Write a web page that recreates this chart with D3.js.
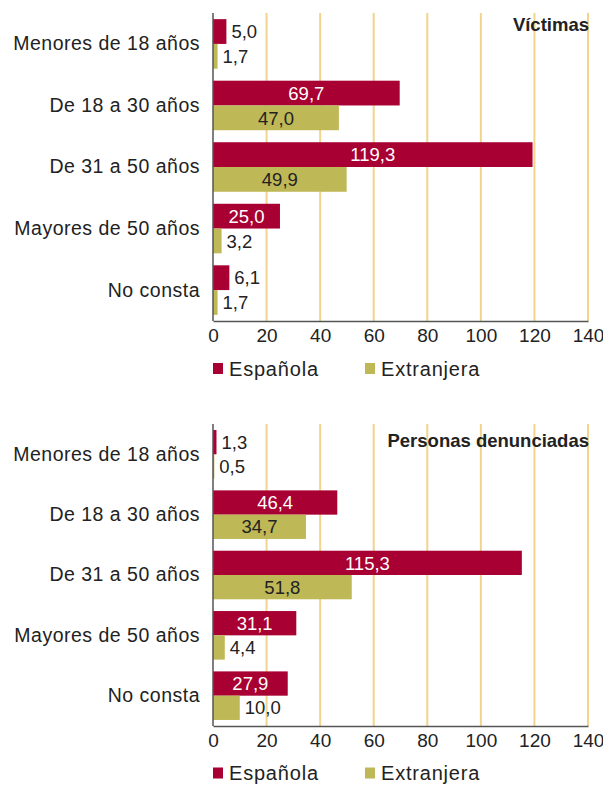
<!DOCTYPE html>
<html>
<head>
<meta charset="utf-8">
<script src="https://cdn.jsdelivr.net/npm/d3@7"></script>
<style>
  body { margin: 0; background: #fff; }
  svg { display: block; font-family: "Liberation Sans", Arial, sans-serif; }
</style>
</head>
<body>
<svg id="mysvg" width="603" height="785"></svg>
<script>
// data
var categories = ["Menores de 18 años", "De 18 a 30 años", "De 31 a 50 años", "Mayores de 50 años", "No consta"];
var seriesNames = ["Española", "Extranjera"];
var victimasEspanola = [5.0, 69.7, 119.3, 25.0, 6.1];
var victimasExtranjera = [1.7, 47.0, 49.9, 3.2, 1.7];
var denunciadasEspanola = [1.3, 46.4, 115.3, 31.1, 27.9];
var denunciadasExtranjera = [0.5, 34.7, 51.8, 4.4, 10.0];
var xTicks = [0, 20, 40, 60, 80, 100, 120, 140];

var colors = { "Española": "#a80032", "Extranjera": "#bfb856" };
var gridColor = "#f3d48e";
var textColor = "#222";

var svg = d3.select("#mysvg");

function fmt(v) { return d3.format(".1f")(v).replace(".", ","); }

function drawPanel(opt) {
  var data = categories.map(function(c, i) {
    return { cat: c, vals: [opt.esp[i], opt.ext[i]] };
  });

  var x = d3.scaleLinear().domain([0, 140]).range([213, 588]);
  var y = d3.scaleBand().domain(categories).range([opt.top, opt.bottom])
      .paddingInner(0.195).paddingOuter(0.1);
  var ySub = d3.scaleBand().domain(seriesNames).range([0, y.bandwidth()]);

  var g = svg.append("g");

  // gridlines
  g.selectAll(".grid")
    .data(xTicks.slice(1))
    .enter().append("line")
      .attr("x1", function(d) { return x(d); })
      .attr("x2", function(d) { return x(d); })
      .attr("y1", opt.top)
      .attr("y2", opt.bottom)
      .attr("stroke", gridColor)
      .attr("stroke-width", 2);

  // title
  g.append("text")
    .attr("x", 589)
    .attr("y", opt.titleY)
    .attr("text-anchor", "end")
    .style("font-weight", "bold")
    .style("font-size", "18.5px")
    .style("fill", textColor)
    .text(opt.title);

  // bars
  var groups = g.selectAll(".grp")
    .data(data)
    .enter().append("g")
      .attr("transform", function(d) { return "translate(0," + y(d.cat) + ")"; });

  groups.selectAll("rect")
    .data(function(d) { return d.vals.map(function(v, j) { return { s: seriesNames[j], v: v }; }); })
    .enter().append("rect")
      .attr("x", x(0))
      .attr("y", function(d) { return ySub(d.s); })
      .attr("width", function(d) { return x(d.v) - x(0); })
      .attr("height", ySub.bandwidth())
      .attr("fill", function(d) { return colors[d.s]; });

  groups.selectAll(".val")
    .data(function(d) { return d.vals.map(function(v, j) { return { s: seriesNames[j], v: v }; }); })
    .enter().append("text")
      .attr("x", function(d) {
        return d.v >= 15 ? (x(0) + x(d.v)) / 2 : x(d.v) + 5;
      })
      .attr("y", function(d) { return ySub(d.s) + ySub.bandwidth() / 2; })
      .attr("dy", "0.36em")
      .attr("text-anchor", function(d) { return d.v >= 15 ? "middle" : "start"; })
      .style("font-size", "18.5px")
      .style("fill", function(d) {
        if (d.v >= 15 && d.s === "Española") return "#fff";
        return textColor;
      })
      .text(function(d) { return fmt(d.v); });

  // category labels
  g.selectAll(".cat")
    .data(categories)
    .enter().append("text")
      .attr("x", 200)
      .attr("y", function(d) { return y(d) + y.bandwidth() / 2; })
      .attr("dy", "0.33em")
      .attr("text-anchor", "end")
      .style("font-size", "19.5px")
      .style("letter-spacing", "0.5px")
      .style("fill", textColor)
      .text(function(d) { return d; });

  // axes
  var xAxis = g.append("g")
    .attr("transform", "translate(0," + opt.bottom + ")")
    .call(d3.axisBottom(x).tickValues(xTicks).tickSize(0).tickPadding(8).tickFormat(d3.format("d")));
  xAxis.select(".domain").attr("stroke", "#555").attr("stroke-width", 1.5);
  xAxis.selectAll("text")
    .style("font-size", "19px")
    .style("font-family", "Liberation Sans, Arial, sans-serif")
    .style("fill", textColor);

  g.append("line")
    .attr("x1", x(0)).attr("x2", x(0))
    .attr("y1", opt.top).attr("y2", opt.bottom)
    .attr("stroke", "#555")
    .attr("stroke-width", 1.5);

  // legend
  var leg = g.selectAll(".leg")
    .data(seriesNames)
    .enter().append("g")
      .attr("transform", function(d, i) { return "translate(" + (i === 0 ? 213 : 365) + "," + opt.legendY + ")"; });
  leg.append("rect")
    .attr("x", 0).attr("y", -5.5)
    .attr("width", 10).attr("height", 11)
    .attr("fill", function(d) { return colors[d]; });
  leg.append("text")
    .attr("x", 16)
    .attr("y", 0)
    .attr("dy", "0.36em")
    .style("font-size", "20px")
    .style("letter-spacing", "0.8px")
    .style("fill", textColor)
    .text(function(d) { return d; });
}

drawPanel({ title: "Víctimas", titleY: 30.5, top: 13, bottom: 321, legendY: 368.5,
            esp: victimasEspanola, ext: victimasExtranjera });
drawPanel({ title: "Personas denunciadas", titleY: 447, top: 424, bottom: 726, legendY: 773,
            esp: denunciadasEspanola, ext: denunciadasExtranjera });
</script>
</body>
</html>
